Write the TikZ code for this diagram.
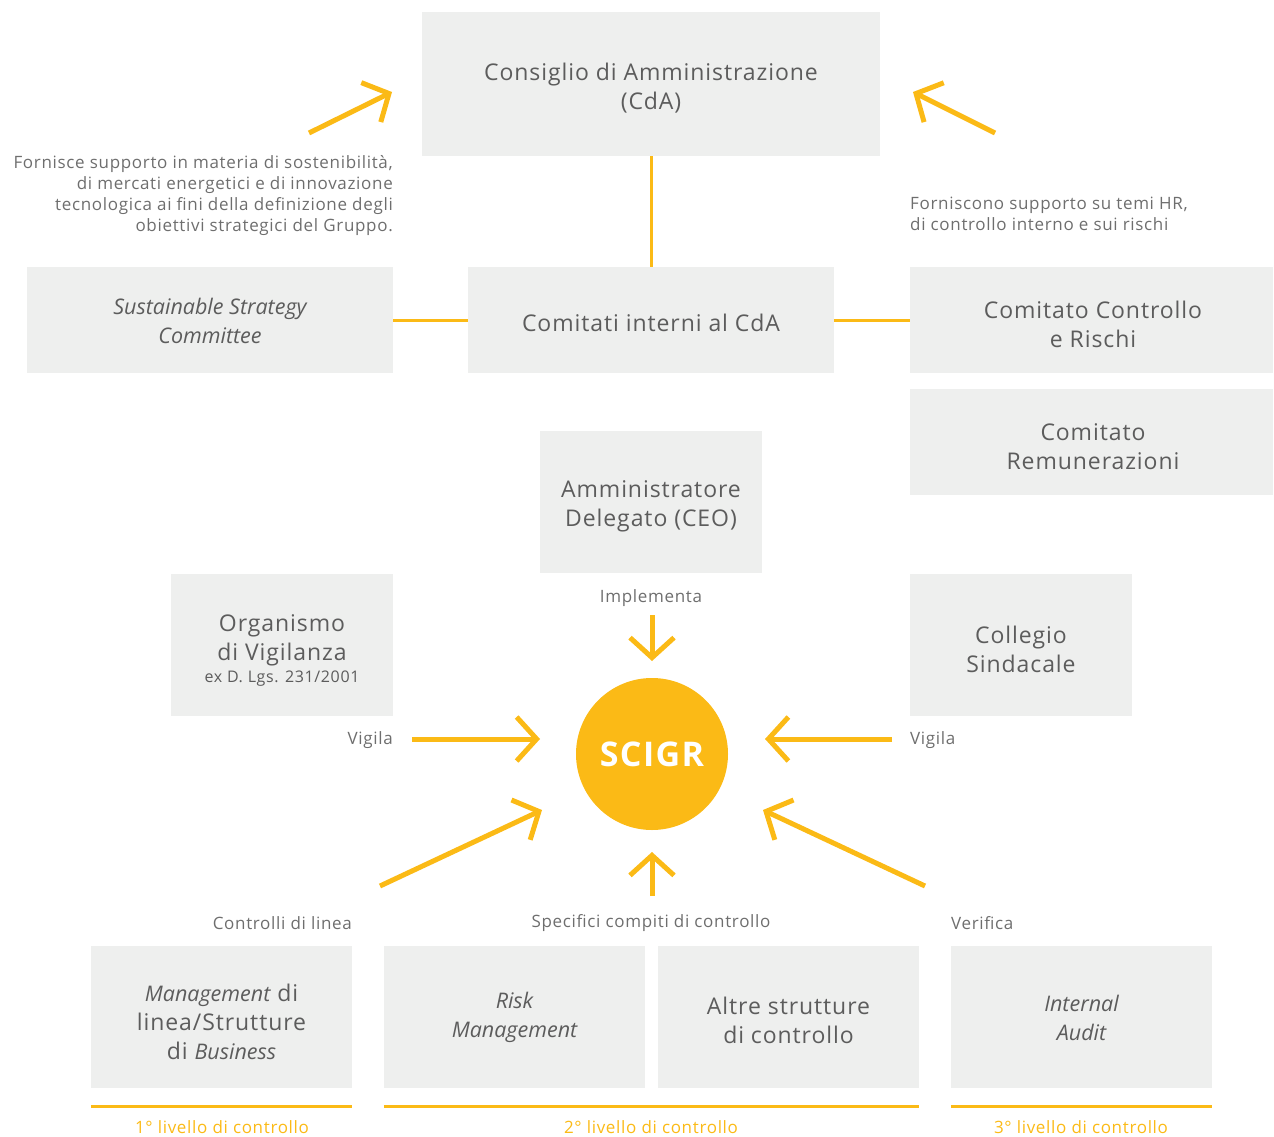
\documentclass[tikz,border=0pt]{standalone}
\usepackage{fontspec}
\setmainfont{Open Sans}[LetterSpace=4]
\newfontfamily\itfam{Open Sans}[LetterSpace=0]
\newcommand\itx[1]{{\itfam\fontsize{21.5}{29}\selectfont\itshape #1}}
\usetikzlibrary{arrows.meta}
\definecolor{boxgray}{RGB}{238,239,238}
\definecolor{ylw}{RGB}{251,186,22}
\definecolor{txt}{RGB}{92,92,92}
\definecolor{txtl}{RGB}{110,110,110}
\begin{document}
\begin{tikzpicture}[x=1pt,y=-1pt,
 box/.style={fill=boxgray, draw=none, inner sep=0pt},
 btxt/.style={text=txt, align=center, inner sep=0pt, font=\fontsize{23}{29}\selectfont},
 conn/.style={draw=ylw, line width=3pt},
 arr/.style={draw=ylw, line width=5pt, -{Straight Barb[length=20pt,width=44pt]}},
 note/.style={text=txtl, font=\fontsize{17}{21}\selectfont, inner sep=0pt},
 lvl/.style={text=ylw, font=\fontsize{17}{21}\selectfont, inner sep=0pt},
]
\useasboundingbox (0,0) rectangle (1274,1137);

% boxes
\node[box, minimum width=458, minimum height=144] (cda) at (651,84) {};
\node[box, minimum width=366, minimum height=106] (ssc) at (210,320) {};
\node[box, minimum width=366, minimum height=106] (com) at (651,320) {};
\node[box, minimum width=363, minimum height=106] (ccr) at (1091.5,320) {};
\node[box, minimum width=363, minimum height=106] (rem) at (1091.5,442) {};
\node[box, minimum width=222, minimum height=142] (ceo) at (651,502) {};
\node[box, minimum width=222, minimum height=142] (odv) at (282,645) {};
\node[box, minimum width=222, minimum height=142] (cs) at (1021,645) {};
\node[box, minimum width=261, minimum height=142] (mgmt) at (221.5,1017) {};
\node[box, minimum width=261, minimum height=142] (risk) at (514.5,1017) {};
\node[box, minimum width=261, minimum height=142] (altre) at (788.5,1017) {};
\node[box, minimum width=261, minimum height=142] (ia) at (1081.5,1017) {};

% box texts
\node[btxt] (cdaT) at (651,88) {Consiglio di Amministrazione\\(CdA)};
\node[btxt] (sscT) at (210,321) {\itx{Sustainable Strategy}\\\itx{Committee}};
\node[btxt] (comT) at (651,323) {Comitati interni al CdA};
\node[btxt] (ccrT) at (1093,324.5) {Comitato Controllo\\e Rischi};
\node[btxt] (remT) at (1093,446.5) {Comitato\\Remunerazioni};
\node[btxt] (ceoT) at (651,506.5) {Amministratore\\Delegato (CEO)};
\node[btxt] (odvT) at (282,650) {Organismo\\di Vigilanza\\[-7pt]{\fontsize{16}{20}\selectfont ex D. Lgs. 231/2001}};
\node[btxt] (csT) at (1021,649.5) {Collegio\\Sindacale};
\node[btxt] (mgmtT) at (221.5,1021.5) {\itx{Management} di\\linea/Strutture\\di \itx{Business}};
\node[btxt] (riskT) at (514.5,1017.5) {\itx{Risk}\\\itx{Management}};
\node[btxt] (altreT) at (788.5,1020.5) {Altre strutture\\di controllo};
\node[btxt] (iaT) at (1081.5,1017.5) {\itx{Internal}\\\itx{Audit}};

\node[circle, fill=ylw, minimum size=152, inner sep=0pt, text=white, font=\fontsize{34}{36}\selectfont\bfseries] (sc) at (652,754) {SCIGR};

% plain connectors
\draw[conn] (cda.south) -- (com.north);
\draw[conn] (ssc.east) -- (com.west);
\draw[conn] (com.east) -- (ccr.west);

% notes
\node[note, align=right, anchor=north east] (n1) at (393,155) {Fornisce supporto in materia di sostenibilità,\\di mercati energetici e di innovazione\\tecnologica ai fini della definizione degli\\obiettivi strategici del Gruppo.};
\node[note, align=left, anchor=north west] (n2) at (910,197) {Forniscono supporto su temi HR,\\di controllo interno e sui rischi};
\node[note] (impl) at (651,598) {Implementa};
\node[note, anchor=east] (v1) at (393,740) {Vigila};
\node[note, anchor=west] (v2) at (910,740) {Vigila};
\node[note, anchor=east] (cl) at (352,923) {Controlli di linea};
\node[note] (sp) at (651,923) {Specifici compiti di controllo};
\node[note, anchor=west] (ver) at (951,923) {Verifica};

% arrow coordinates
\coordinate (a1s) at (309,133); \coordinate (a1e) at (392,92);
\coordinate (a2s) at (995,133); \coordinate (a2e) at (913,92);
\coordinate (a3s) at (652,615); \coordinate (a3e) at (652,661);
\coordinate (a4s) at (412,739); \coordinate (a4e) at (540,739);
\coordinate (a5s) at (892,739); \coordinate (a5e) at (765,739);
\coordinate (a6s) at (380,886); \coordinate (a6e) at (542,810);
\coordinate (a7s) at (652,896); \coordinate (a7e) at (652,852);
\coordinate (a8s) at (925,886); \coordinate (a8e) at (763,810);
\foreach \i in {1,...,8} {\draw[arr] (a\i s) -- (a\i e);}

% level lines
\draw[conn] ([yshift=-18pt]mgmt.south west) -- ([yshift=-18pt]mgmt.south east);
\draw[conn] ([yshift=-18pt]risk.south west) -- ([yshift=-18pt]altre.south east);
\draw[conn] ([yshift=-18pt]ia.south west) -- ([yshift=-18pt]ia.south east);
\node[lvl] (l1) at (222,1127) {1° livello di controllo};
\node[lvl] (l2) at (651,1127) {2° livello di controllo};
\node[lvl] (l3) at (1081,1127) {3° livello di controllo};
\end{tikzpicture}
\end{document}
